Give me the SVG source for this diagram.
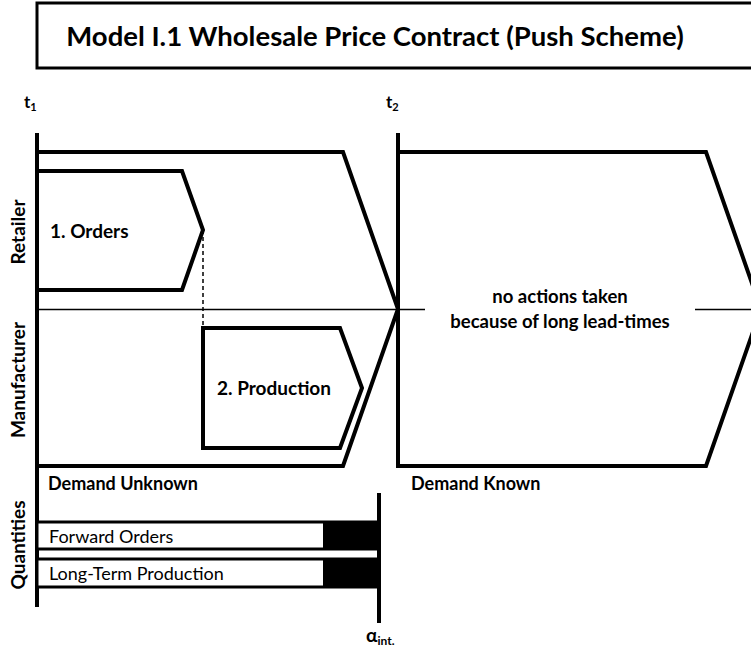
<svg xmlns="http://www.w3.org/2000/svg" width="751" height="650" viewBox="0 0 751 650">
<style>
.s{fill:#fff;stroke:#000;stroke-width:4;stroke-linejoin:miter}
.b{font-family:Lato,"Open Sans",sans-serif;font-weight:bold;fill:#000}
.r{font-family:Lato,"Open Sans",sans-serif;fill:#000}
.ln{stroke:#000;stroke-width:4;fill:none}
</style>
<rect width="751" height="650" fill="#fff"/>
<g id="title">
<rect x="37" y="3" width="720" height="65" fill="#fff" stroke="#000" stroke-width="3"/>
<text class="b" x="375" y="46" font-size="27.5" text-anchor="middle">Model I.1 Wholesale Price Contract (Push Scheme)</text>
</g>
<g id="timeline">
<text class="b" x="24" y="108" font-size="17">t<tspan font-size="11" dy="3">1</tspan></text>
<text class="b" x="386" y="108" font-size="17">t<tspan font-size="11" dy="3">2</tspan></text>
<line class="ln" x1="37" y1="133" x2="37" y2="607"/>
<line class="ln" x1="398" y1="133" x2="398" y2="160"/>
</g>
<g id="phase1">
<polygon class="s" points="37,152 343,152 398,309 343,466 37,466"/>
</g>
<g id="phase2">
<polygon class="s" points="398,152 706,152 761,309 706,466 398,466"/>
<text class="b" x="560" y="303" font-size="18.5" text-anchor="middle">no actions taken</text>
<text class="b" x="560" y="328" font-size="18.5" text-anchor="middle">because of long lead-times</text>
</g>
<g id="connectors">
<line x1="37" y1="309.5" x2="425" y2="309.5" stroke="#000" stroke-width="1.5"/>
<line x1="695" y1="309.5" x2="751" y2="309.5" stroke="#000" stroke-width="1.5"/>
<line x1="203" y1="230" x2="203" y2="328" stroke="#000" stroke-width="1.5" stroke-dasharray="4,3"/>
</g>
<g id="orders">
<polygon class="s" points="37,171 182,171 203,230 182,290 37,290"/>
<text class="b" x="50" y="238" font-size="19">1.  Orders</text>
</g>
<g id="production">
<polygon class="s" points="203,328 340,328 362,388 340,448 203,448"/>
<text class="b" x="217" y="395" font-size="19">2.  Production</text>
</g>
<g id="lanes">
<text class="b" font-size="19" text-anchor="middle" transform="translate(25,232) rotate(-90)">Retailer</text>
<text class="b" font-size="19" text-anchor="middle" transform="translate(25,380) rotate(-90)">Manufacturer</text>
<text class="b" font-size="19" text-anchor="middle" transform="translate(25,545) rotate(-90)">Quantities</text>
</g>
<g id="demand">
<text class="b" x="48" y="490" font-size="18">Demand Unknown</text>
<text class="b" x="411" y="490" font-size="18">Demand Known</text>
</g>
<g id="quantities">
<line class="ln" x1="379" y1="493" x2="379" y2="623"/>
<rect x="37" y="522" width="342" height="27" fill="#fff" stroke="#000" stroke-width="3"/>
<rect x="323" y="522" width="56" height="27" fill="#000"/>
<text class="r" x="49" y="543" font-size="18">Forward Orders</text>
<rect x="37" y="559" width="342" height="28" fill="#fff" stroke="#000" stroke-width="3"/>
<rect x="323" y="559" width="56" height="28" fill="#000"/>
<text class="r" x="49" y="580" font-size="18">Long-Term Production</text>
<text class="b" x="366" y="642" font-size="19">α<tspan font-size="12" dy="3">int.</tspan></text>
</g>
</svg>
